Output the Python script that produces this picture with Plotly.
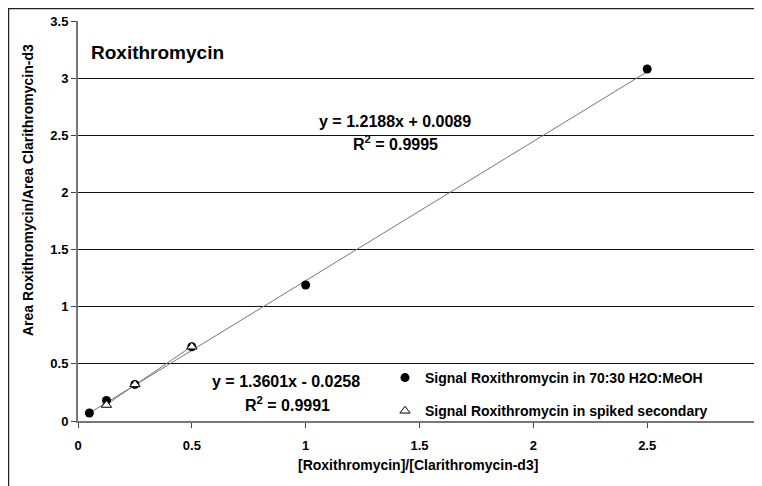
import plotly.graph_objects as go

# Data
x_meoh = [0.05, 0.125, 0.25, 0.5, 1.0, 2.5]
y_meoh = [0.07, 0.18, 0.32, 0.65, 1.19, 3.08]
x_spiked = [0.125, 0.25, 0.5]
y_spiked = [0.14, 0.32, 0.65]
fit_meoh = (1.2188, 0.0089)
fit_spiked = (1.3601, -0.0258)
x_ticks = [0, 0.5, 1, 1.5, 2, 2.5, 3]
x_ticklabels = ["0", "0.5", "1", "1.5", "2", "2.5", "3"]
y_ticks = [0, 0.5, 1, 1.5, 2, 2.5, 3, 3.5]
y_ticklabels = ["0", "0.5", "1", "1.5", "2", "2.5", "3", "3.5"]

FONT = "Liberation Sans, Arial, sans-serif"

fig = go.Figure()

# Trendlines
for xs, (m, b) in [(x_meoh, fit_meoh), (x_spiked, fit_spiked)]:
    x0, x1 = min(xs), max(xs)
    fig.add_trace(go.Scatter(x=[x0, x1], y=[m * x0 + b, m * x1 + b], mode="lines",
                             line=dict(color="#777777", width=1), showlegend=False,
                             hoverinfo="skip"))

fig.add_trace(go.Scatter(x=x_meoh, y=y_meoh, mode="markers",
                         name="Signal Roxithromycin in 70:30 H2O:MeOH",
                         legendgroup="a",
                         marker=dict(symbol="circle", size=9, color="black")))
fig.add_trace(go.Scatter(x=x_spiked, y=y_spiked, mode="markers",
                         name="Signal Roxithromycin in spiked secondary",
                         legendgroup="b",
                         marker=dict(symbol="triangle-up", size=9, color="white",
                                     line=dict(width=1, color="black"))))

tickfont = dict(family=FONT, size=13, color="black", weight="bold")

fig.update_xaxes(range=[0, 3], tickvals=x_ticks, ticktext=x_ticklabels,
                 showgrid=False, zeroline=False, ticks="outside", ticklen=5,
                 tickcolor="#444", showline=True, linecolor="#777", linewidth=2,
                 ticklabelstandoff=6, tickfont=tickfont, automargin=False)
fig.update_yaxes(range=[0, 3.5], tickvals=y_ticks, ticktext=y_ticklabels,
                 showgrid=True, gridcolor="#111", gridwidth=1,
                 zeroline=False, ticks="outside", ticklen=5,
                 tickcolor="#444", showline=True, linecolor="#777", linewidth=2,
                 tickfont=tickfont, automargin=False)

shapes = [
    dict(type="line", xref="paper", yref="paper", x0=1, x1=1, y0=0, y1=1,
         line=dict(color="#444", width=1)),
    dict(type="rect", xref="paper", yref="paper", x0=-0.1018, x1=1.05, y0=-0.5, y1=1.031,
         line=dict(color="#222", width=1.5)),
]

def px(sx):
    return (sx - 78) / 683

def py(sy):
    return (421 - sy) / 400

ann = [
    dict(text="<b>Roxithromycin</b>", x=px(89), y=py(52), xanchor="left", size=19),
    dict(text="<b>y = 1.2188x + 0.0089</b>", x=px(395), y=py(122), xanchor="center", size=16),
    dict(text="<b>R<sup>2</sup> = 0.9995</b>", x=px(395), y=py(143), xanchor="center", size=16),
    dict(text="<b>y = 1.3601x - 0.0258</b>", x=px(286), y=py(381), xanchor="center", size=16),
    dict(text="<b>R<sup>2</sup> = 0.9991</b>", x=px(287), y=py(404), xanchor="center", size=16),
    dict(text="<b>[Roxithromycin]/[Clarithromycin-d3]</b>", x=px(418), y=py(465), xanchor="center", size=14),
]
annotations = []
for a in ann:
    annotations.append(dict(text=a["text"], xref="paper", yref="paper", x=a["x"], y=a["y"],
                            xanchor=a["xanchor"], yanchor="middle", showarrow=False,
                            font=dict(family=FONT, size=a["size"], color="black")))
annotations.append(dict(text="<b>Area Roxithromycin/Area Clarithromycin-d3</b>", xref="paper", yref="paper",
                        x=px(28), y=py(190), textangle=-90, xanchor="center", yanchor="middle",
                        showarrow=False, font=dict(family=FONT, size=14, color="black")))

fig.update_layout(
    width=762, height=486,
    margin=dict(l=70, r=9, t=13, b=73, autoexpand=False),
    paper_bgcolor="white", plot_bgcolor="white",
    shapes=shapes, annotations=annotations,
    legend=dict(x=px(385), y=py(362), xanchor="left", yanchor="top",
                bgcolor="rgba(0,0,0,0)", tracegroupgap=12,
                font=dict(family=FONT, size=14, color="black", weight="bold")),
    showlegend=True,
)

fig.write_html("out.html")
